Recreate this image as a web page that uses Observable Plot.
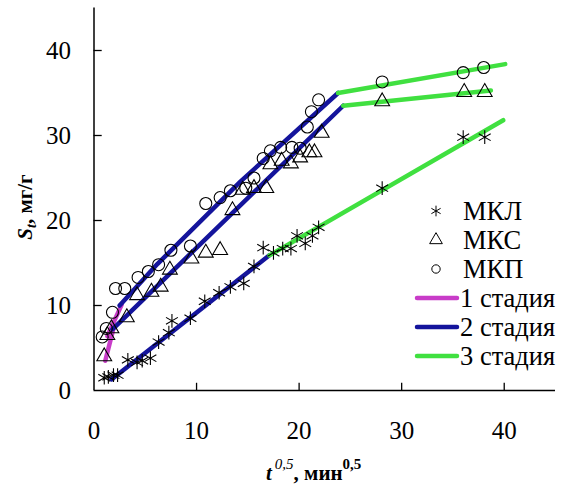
<!DOCTYPE html>
<html><head><meta charset="utf-8">
<script src="https://cdn.jsdelivr.net/npm/d3@7"></script>
<script src="https://cdn.jsdelivr.net/npm/@observablehq/plot@0.6"></script>
<style>
body{margin:0;background:#fff;}
#wrap{position:relative;width:564px;height:488px;}
</style></head><body><div id="wrap"></div>
<script>
// ---- data ----
const xTicks = [0, 10, 20, 30, 40];
const yTicks = [0, 10, 20, 30, 40];

const mklX = [1.0,1.4,1.9,2.3,3.3,4.2,4.7,5.5,6.3,7.3,7.6,9.4,10.8,12.2,13.3,14.6,15.6,16.5,17.5,18.4,19.2,19.8,20.6,21.3,21.9,28.1,36.0,38.1];
const mklY = [1.5,1.6,1.8,1.8,3.6,3.3,3.5,3.8,5.7,6.8,8.2,8.5,10.5,11.5,12.2,12.6,14.6,16.8,16.2,16.7,16.7,18.2,17.3,18.2,19.2,23.8,29.8,29.8];

const mksX = [1.0,1.3,1.7,3.2,4.2,5.6,6.5,7.4,9.5,10.9,12.3,13.5,14.5,15.6,16.8,17.2,18.3,19.2,20.1,21.0,21.5,22.2,28.1,36.1,38.1];
const mksY = [4.0,6.5,7.3,8.6,11.2,11.6,12.2,14.2,15.5,16.2,16.5,21.2,23.6,23.8,23.8,26.6,27.0,26.7,27.4,28.0,28.0,30.3,34.0,35.1,35.1];

const mkpX = [0.8,1.2,1.8,2.1,3.0,4.3,5.3,6.3,7.5,9.4,10.9,12.3,13.3,14.8,15.6,16.5,17.2,18.2,19.3,20.1,20.8,21.2,21.9,28.1,36.0,38.0];
const mkpY = [6.3,7.3,9.2,12.0,12.0,13.3,14.0,14.8,16.5,17.0,22.0,22.7,23.5,23.8,25.0,27.3,28.2,28.6,28.6,28.5,31.0,32.8,34.2,36.3,37.4,38.0];

// fitted stage lines [x, y]
const stage1MKS = [[1.1,3.5],[1.9,7.3]];
const stage1MKP = [[1.3,6.4],[2.7,10.1]];
const stage2MKL = [[1.7,1.3],[17.1,15.9]];
const stage2MKS = [[1.8,7.2],[24.3,33.5]];
const stage2MKP = [[2.5,10.0],[6.2,14.9],[14.3,24.6],[23.8,35.0]];
const stage3MKL = [[17.1,15.9],[39.9,31.8]];
const stage3MKS = [[24.3,33.5],[38.7,35.3]];
const stage3MKP = [[23.8,35.0],[40.1,38.4]];

const seriesNames = ["МКЛ", "МКС", "МКП"];
const stageNames = ["1 стадия", "2 стадия", "3 стадия"];
const stageColors = ["#c83cc8", "#14149c", "#40e040"];

// ---- build ----
const pts = (xs, ys) => xs.map((x, i) => ({x, y: ys[i]}));
const seg = (arr) => arr.map(([x, y]) => ({x, y}));
const serif = "'Liberation Serif', 'Times New Roman', 'DejaVu Serif', serif";

const lineMark = (arr, color) => Plot.line(seg(arr), {x: "x", y: "y", stroke: color, strokeWidth: 4.5, strokeLinecap: "round"});

const chart = Plot.plot({
  width: 564, height: 488,
  marginLeft: 93.5, marginRight: 9, marginTop: 7.5, marginBottom: 98,
  style: {fontFamily: serif, fontSize: "24px", color: "black", background: "white"},
  x: {domain: [0, 45], label: null},
  y: {domain: [0, 45], label: null},
  marks: [
    Plot.axisX({ticks: xTicks, tickSize: 0, tickPadding: 31, tickFormat: d => d, fontSize: 25, label: null}),
    Plot.axisY({ticks: yTicks, tickSize: 0, tickPadding: 23, tickFormat: d => d, fontSize: 25, label: null}),
    Plot.ruleX(xTicks.slice(1), {y1: 0, y2: 0.85, stroke: "black", strokeWidth: 1.3}),
    Plot.ruleY(yTicks.slice(1), {x1: 0, x2: 0.8, stroke: "black", strokeWidth: 1.3}),
    Plot.ruleX([0], {stroke: "black", strokeWidth: 1.5}),
    Plot.ruleY([0], {stroke: "black", strokeWidth: 1.5}),
    lineMark(stage1MKS, stageColors[0]),
    lineMark(stage1MKP, stageColors[0]),
    lineMark(stage2MKL, stageColors[1]),
    lineMark(stage2MKS, stageColors[1]),
    lineMark(stage2MKP, stageColors[1]),
    lineMark(stage3MKL, stageColors[2]),
    lineMark(stage3MKS, stageColors[2]),
    lineMark(stage3MKP, stageColors[2]),
    Plot.dot(pts(mklX, mklY), {x: "x", y: "y", symbol: "asterisk", r: 6.5, stroke: "black", strokeWidth: 1.1}),
    Plot.dot(pts(mksX, mksY), {x: "x", y: "y", symbol: "triangle", r: 5.5, fill: "none", stroke: "black", strokeWidth: 1.1}),
    Plot.dot(pts(mkpX, mkpY), {x: "x", y: "y", symbol: "circle", r: 6, fill: "none", stroke: "black", strokeWidth: 1.1})
  ]
});
document.getElementById("wrap").appendChild(chart);

const svg = d3.select(chart);

// y axis title: St, мг/г
const yt = svg.append("text")
  .attr("transform", "translate(32,207) rotate(-90)")
  .attr("text-anchor", "middle")
  .attr("font-size", 21).attr("font-weight", "bold").attr("fill", "black");
yt.append("tspan").attr("font-style", "italic").text("S");
yt.append("tspan").attr("font-style", "italic").attr("font-size", 14).attr("dy", 4).text("t");
yt.append("tspan").attr("dy", -4).text(", мг/г");

// x axis title: t^0,5, мин^0,5
const xt = svg.append("text")
  .attr("x", 266).attr("y", 480).attr("text-anchor", "start")
  .attr("font-size", 21).attr("font-weight", "bold").attr("fill", "black");
xt.append("tspan").attr("font-style", "italic").text("t");
xt.append("tspan").attr("font-style", "italic").attr("font-weight", "normal").attr("font-size", 15).attr("dx", 3).attr("dy", -11).text("0,5");
xt.append("tspan").attr("dy", 11).text(", мин");
xt.append("tspan").attr("font-size", 15).attr("dy", -11).text("0,5");

// legend
const lg = svg.append("g").attr("font-size", 26.5).attr("fill", "black").attr("text-anchor", "start");
const rowY = [211, 240, 269, 298, 327, 356];
const symTypes = [d3.symbolAsterisk, d3.symbolTriangle, d3.symbolCircle];
const symSizes = [80, 70, 55];
seriesNames.forEach((name, i) => {
  lg.append("path")
    .attr("d", d3.symbol().type(symTypes[i]).size(symSizes[i])())
    .attr("transform", `translate(436,${rowY[i]})`)
    .attr("fill", "none").attr("stroke", "black").attr("stroke-width", 1);
  lg.append("text").attr("x", 463).attr("y", rowY[i]).attr("dy", "0.34em").text(name);
});
stageNames.forEach((name, i) => {
  const y = rowY[i + 3];
  lg.append("line").attr("x1", 417).attr("x2", 457).attr("y1", y).attr("y2", y)
    .attr("stroke", stageColors[i]).attr("stroke-width", 4.5).attr("stroke-linecap", "round");
  lg.append("text").attr("x", 460).attr("y", y).attr("dy", "0.34em").text(name);
});

// force the serif face on every text element
svg.selectAll("text").style("font-family", serif);
</script>
</body></html>
